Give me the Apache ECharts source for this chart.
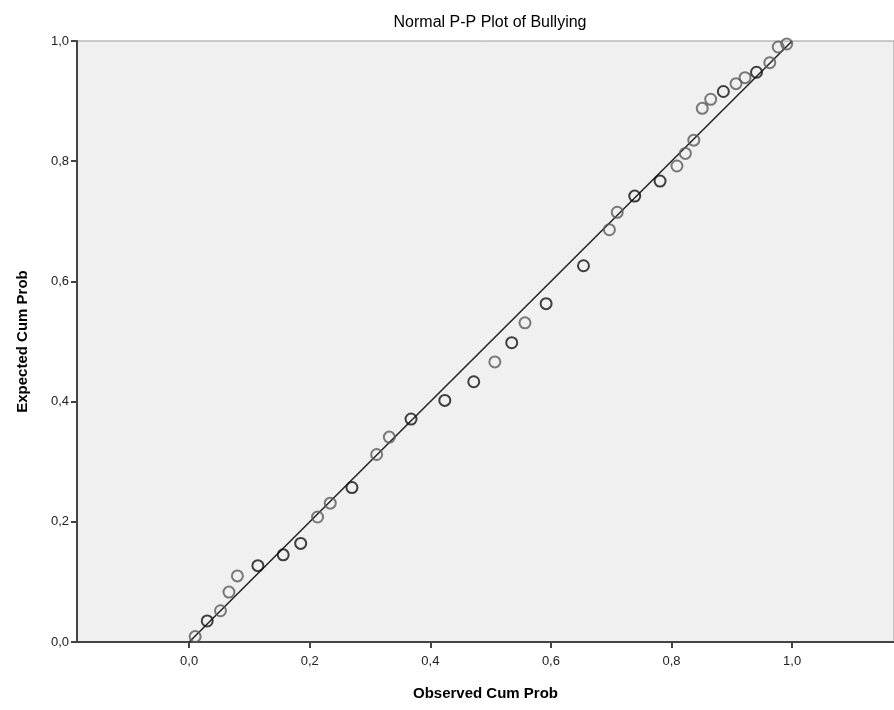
<!DOCTYPE html>
<html>
<head>
<meta charset="utf-8">
<script src="https://cdn.jsdelivr.net/npm/echarts@6/dist/echarts.min.js"></script>
<style>
  html, body { margin: 0; padding: 0; background: #fff; }
  #main { width: 894px; height: 710px; }
</style>
</head>
<body>
<div id="main"></div>
<script>
// observed / expected cumulative probabilities
var observed = [0.010, 0.030, 0.052, 0.066, 0.080, 0.114, 0.156, 0.185, 0.213, 0.234,
                0.270, 0.311, 0.332, 0.368, 0.424, 0.472, 0.507, 0.535, 0.557, 0.592,
                0.654, 0.697, 0.710, 0.739, 0.781, 0.809, 0.823, 0.837, 0.851, 0.865,
                0.886, 0.907, 0.922, 0.941, 0.963, 0.977, 0.991];
var expected = [0.009, 0.035, 0.052, 0.083, 0.110, 0.127, 0.145, 0.164, 0.208, 0.231,
                0.257, 0.312, 0.341, 0.371, 0.402, 0.433, 0.466, 0.498, 0.531, 0.563,
                0.626, 0.686, 0.715, 0.742, 0.767, 0.792, 0.813, 0.835, 0.888, 0.903,
                0.916, 0.929, 0.939, 0.948, 0.964, 0.990, 0.995];
// darker circles = overlapping cases
var overlap = [0, 1, 0, 0, 0, 1, 1, 1, 0, 0,
               1, 0, 0, 1, 1, 1, 0, 1, 0, 1,
               1, 0, 0, 1, 1, 0, 0, 0, 0, 0,
               1, 0, 0, 1, 0, 0, 0];
var tickValues = [0, 0.2, 0.4, 0.6, 0.8, 1.0];
var refLine = [[0, 0], [1, 1]];

function fmt(v) {
    return v.toFixed(1).replace('.', ',');
}

var myChart = echarts.init(document.getElementById('main'));

var pts = [];
for (var i = 0; i < observed.length; i++) {
    pts.push({
        value: [observed[i], expected[i]],
        itemStyle: { borderColor: overlap[i] ? '#111' : '#5a5a5a' }
    });
}

var option = {
    backgroundColor: '#fff',
    animation: false,
    textStyle: { fontFamily: 'Liberation Sans, Arial, sans-serif' },
    title: {
        text: 'Normal P-P Plot of Bullying',
        left: 485,
        textAlign: 'center',
        top: 10,
        textStyle: { fontSize: 16, fontWeight: 'normal', color: '#000' }
    },
    grid: {
        left: 77, top: 41, right: 0, bottom: 68,
        show: true,
        backgroundColor: '#f0f0f0',
        borderColor: '#999',
        borderWidth: 1
    },
    xAxis: {
        type: 'value',
        min: -0.186,
        max: 1.169,
        name: 'Observed Cum Prob',
        nameLocation: 'middle',
        nameGap: 44,
        nameTextStyle: { fontSize: 15, fontWeight: 'bold', color: '#000' },
        axisLine: { onZero: false, lineStyle: { color: '#444', width: 2 } },
        axisTick: { customValues: tickValues, length: 6, lineStyle: { color: '#444', width: 2 } },
        axisLabel: { customValues: tickValues, formatter: fmt, fontSize: 13, color: '#222', margin: 13 },
        splitLine: { show: false }
    },
    yAxis: {
        type: 'value',
        min: 0,
        max: 1,
        interval: 0.2,
        name: 'Expected Cum Prob',
        nameLocation: 'middle',
        nameGap: 47,
        nameTextStyle: { fontSize: 15, fontWeight: 'bold', color: '#000' },
        axisLine: { show: true, onZero: false, lineStyle: { color: '#444', width: 2 } },
        axisTick: { show: true, length: 6, lineStyle: { color: '#444', width: 2 } },
        axisLabel: { formatter: fmt, fontSize: 13, color: '#222', margin: 8 },
        splitLine: { show: false }
    },
    series: [
        {
            type: 'line',
            data: refLine,
            symbol: 'none',
            lineStyle: { color: '#222', width: 1.5 },
            z: 2
        },
        {
            type: 'scatter',
            data: pts,
            symbol: 'circle',
            symbolSize: 11,
            itemStyle: { color: 'rgba(0,0,0,0)', borderWidth: 2 },
            z: 3
        }
    ]
};

myChart.setOption(option);
</script>
</body>
</html>
